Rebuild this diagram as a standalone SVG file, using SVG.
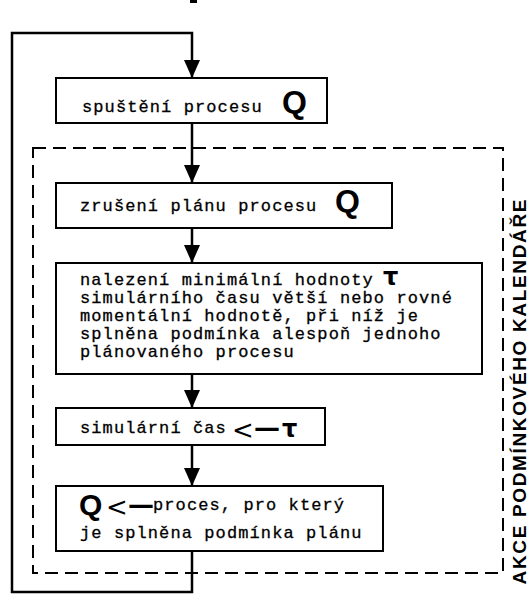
<svg xmlns="http://www.w3.org/2000/svg" width="531" height="595" viewBox="0 0 531 595">
  <style>
    .box { fill: #fff; stroke: #000; stroke-width: 2; }
    .wire { fill: none; stroke: #000; stroke-width: 2.5; }
    .frame { fill: none; stroke: #000; stroke-width: 2; stroke-dasharray: 13 7; }
    .mono { font-family: "Liberation Mono", "Courier New", monospace; font-size: 17px; letter-spacing: 1.1px; fill: #000; stroke: #000; stroke-width: 0.3; }
    .big { font-family: "Liberation Sans", Arial, sans-serif; font-weight: bold; fill: #000; }
    .sym { font-family: "DejaVu Sans", sans-serif; fill: #000; }
    .tau { font-family: "DejaVu Sans", sans-serif; font-weight: bold; font-size: 24px; fill: #000; }
    .side { font-family: "Liberation Sans", Arial, sans-serif; font-weight: bold; font-size: 19px; fill: #000; }
  </style>
  <defs>
    <marker id="head" markerUnits="userSpaceOnUse" viewBox="0 0 18 16" refX="18" refY="8" markerWidth="18" markerHeight="16" orient="auto">
      <path d="M0,0 L18,8 L0,16 z" fill="#000"/>
    </marker>
  </defs>
  <rect width="531" height="595" fill="#fff"/>

  <!-- small mark at top edge -->
  <rect x="190" y="0" width="7" height="3" fill="#000"/>

  <!-- dashed frame of the calendar actions -->
  <g id="calendar-frame">
    <rect class="frame" x="33" y="148" width="470" height="425"/>
    <text class="side" transform="translate(526,392) rotate(-90)" text-anchor="middle" textLength="385" lengthAdjust="spacing">AKCE  PODMÍNKOVÉHO  KALENDÁŘE</text>
  </g>

  <!-- connectors -->
  <g id="connectors">
    <path class="wire" d="M192,551 V592 H12 V33 H192 V78" marker-end="url(#head)"/>
    <path class="wire" d="M192,123 V183" marker-end="url(#head)"/>
    <path class="wire" d="M192,228 V263" marker-end="url(#head)"/>
    <path class="wire" d="M192,374 V408" marker-end="url(#head)"/>
    <path class="wire" d="M192,445 V486" marker-end="url(#head)"/>
  </g>

  <g id="start-process">
    <rect class="box" x="56" y="78" width="271" height="45"/>
    <text class="mono" x="82" y="112">spuštění procesu</text>
    <text class="big" x="282" y="113" font-size="32">Q</text>
  </g>

  <g id="cancel-plan">
    <rect class="box" x="56" y="183" width="336" height="45"/>
    <text class="mono" x="80" y="211">zrušení plánu procesu</text>
    <text class="big" x="335" y="212" font-size="32">Q</text>
  </g>

  <g id="find-minimum">
    <rect class="box" x="56" y="263" width="426" height="111"/>
    <text class="mono" x="80" y="285">nalezení minimální hodnoty</text>
    <text class="tau" x="383" y="285">τ</text>
    <text class="mono" x="80" y="303">simulárního času větší nebo rovné</text>
    <text class="mono" x="80" y="321">momentální hodnotě, při níž je</text>
    <text class="mono" x="80" y="339">splněna podmínka alespoň jednoho</text>
    <text class="mono" x="80" y="357">plánovaného procesu</text>
  </g>

  <g id="set-time">
    <rect class="box" x="56" y="408" width="269" height="37"/>
    <text class="mono" x="80" y="433">simulární čas</text>
    <text class="sym" x="232" y="439" font-size="26">&lt;</text>
    <text class="sym" x="254" y="437" font-size="26" font-weight="bold">—</text>
    <text class="tau" x="282" y="437">τ</text>
  </g>

  <g id="select-process">
    <rect class="box" x="56" y="486" width="327" height="65"/>
    <text class="big" x="79" y="515" font-size="30">Q</text>
    <text class="sym" x="106" y="516" font-size="26">&lt;</text>
    <text class="sym" x="128" y="514" font-size="26" font-weight="bold">—</text>
    <text class="mono" x="153" y="510">proces, pro který</text>
    <text class="mono" x="80" y="538">je splněna podmínka plánu</text>
  </g>
</svg>
